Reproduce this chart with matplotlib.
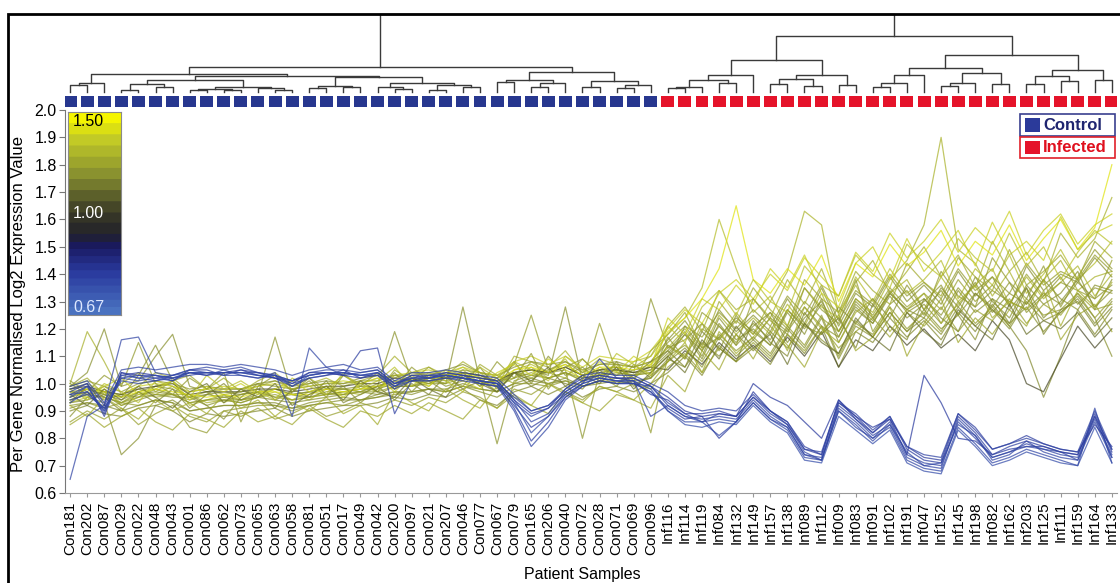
import numpy as np
import matplotlib
matplotlib.use('Agg')
import matplotlib.pyplot as plt
from matplotlib.colors import LinearSegmentedColormap, TwoSlopeNorm
from matplotlib.patches import Rectangle

plt.rcParams['font.family'] = ['Liberation Sans', 'DejaVu Sans']

# sample order (as in the dendrogram)
samples = ['Con181', 'Con202', 'Con087', 'Con029', 'Con022', 'Con048', 'Con043', 'Con001',
           'Con086', 'Con062', 'Con073', 'Con065', 'Con063', 'Con058', 'Con081', 'Con051',
           'Con017', 'Con049', 'Con042', 'Con200', 'Con097', 'Con021', 'Con207', 'Con046',
           'Con077', 'Con067', 'Con079', 'Con165', 'Con206', 'Con040', 'Con072', 'Con028',
           'Con071', 'Con069', 'Con096',
           'Inf116', 'Inf114', 'Inf119', 'Inf084', 'Inf132', 'Inf149', 'Inf157', 'Inf138',
           'Inf089', 'Inf112', 'Inf009', 'Inf083', 'Inf091', 'Inf102', 'Inf191', 'Inf047',
           'Inf152', 'Inf145', 'Inf198', 'Inf082', 'Inf162', 'Inf203', 'Inf125', 'Inf111',
           'Inf159', 'Inf164', 'Inf133']
n_control = 35

# per gene expression, values x100
up01 = [100, 119, 108, 96, 99, 104, 102, 97, 98, 96, 97, 99, 101, 98, 100, 102, 99, 101, 103, 110,
        104, 106, 103, 108, 104, 99, 110, 108, 106, 112, 104, 109, 107, 106, 110,
        121, 128, 119, 134, 127, 131, 124, 138, 129, 142, 126, 137, 145, 133, 141,
        150, 139, 147, 135, 152, 141, 148, 137, 155, 146, 153, 168]
up02 = [93, 95, 98, 92, 95, 99, 101, 92, 94, 96, 94, 95, 98, 96, 94, 98, 96, 99, 97, 103,
        101, 99, 104, 106, 102, 97, 105, 107, 104, 109, 100, 106, 103, 108, 110,
        118, 124, 135, 160, 142, 126, 132, 121, 135, 128, 124, 139, 130, 142, 133,
        138, 145, 131, 142, 136, 147, 133, 140, 149, 138, 144, 152]
up03 = [97, 98, 96, 95, 98, 96, 99, 95, 97, 93, 96, 98, 95, 94, 97, 99, 98, 97, 100, 98,
        102, 100, 103, 104, 99, 102, 104, 102, 105, 107, 103, 105, 106, 102, 107,
        113, 120, 112, 125, 118, 124, 118, 129, 121, 133, 119, 131, 126, 138, 145,
        158, 190, 149, 144, 132, 141, 129, 138, 145, 134, 139, 141]
up04 = [94, 96, 97, 93, 97, 95, 96, 96, 93, 94, 93, 95, 97, 94, 95, 96, 97, 96, 99, 101,
        99, 102, 100, 105, 100, 101, 102, 106, 102, 104, 101, 103, 105, 103, 104,
        114, 109, 122, 116, 126, 118, 130, 141, 163, 158, 125, 136, 124, 133, 138,
        127, 139, 130, 136, 142, 129, 139, 131, 137, 143, 132, 140]
up05 = [90, 92, 89, 88, 91, 92, 90, 86, 89, 88, 89, 90, 91, 88, 90, 91, 92, 92, 93, 95,
        94, 96, 95, 98, 94, 92, 97, 99, 96, 99, 95, 98, 99, 97, 100,
        104, 110, 103, 114, 108, 113, 107, 118, 111, 121, 106, 119, 115, 124, 117,
        123, 116, 126, 119, 129, 121, 112, 95, 110, 127, 118, 127]
up06 = [88, 95, 93, 74, 80, 92, 94, 90, 91, 92, 92, 93, 92, 91, 93, 94, 95, 94, 96, 97,
        96, 98, 97, 99, 97, 95, 99, 101, 100, 101, 99, 100, 101, 100, 102,
        108, 113, 106, 117, 110, 116, 110, 120, 113, 124, 109, 121, 117, 126, 119,
        127, 120, 125, 116, 131, 122, 128, 119, 126, 132, 124, 110]
up07 = [99, 104, 120, 99, 101, 110, 118, 99, 97, 98, 98, 100, 101, 99, 100, 101, 100, 102, 103, 102,
        104, 103, 105, 107, 104, 103, 106, 108, 107, 108, 105, 107, 108, 106, 108,
        116, 123, 114, 127, 119, 125, 119, 131, 122, 135, 121, 133, 128, 139, 130,
        136, 129, 141, 132, 139, 128, 143, 134, 140, 137, 146, 139]
up08 = [95, 97, 94, 96, 95, 98, 96, 93, 94, 95, 94, 96, 117, 96, 95, 97, 98, 97, 99, 119,
        101, 100, 102, 103, 102, 78, 101, 103, 102, 104, 102, 103, 104, 103, 104,
        110, 118, 112, 121, 115, 122, 116, 127, 120, 129, 117, 130, 124, 133, 127,
        131, 125, 135, 128, 134, 130, 127, 133, 129, 137, 131, 136]
up09 = [93, 94, 96, 92, 94, 96, 95, 95, 92, 94, 93, 95, 94, 93, 94, 95, 96, 97, 96, 99,
        99, 101, 100, 128, 101, 99, 104, 105, 103, 128, 101, 104, 103, 105, 106,
        112, 119, 110, 124, 116, 120, 114, 126, 118, 131, 115, 127, 122, 132, 124,
        129, 122, 134, 126, 131, 127, 135, 124, 130, 138, 128, 134]
up10 = [97, 96, 95, 93, 96, 97, 96, 94, 96, 95, 96, 97, 95, 96, 97, 96, 97, 98, 98, 100,
        101, 102, 101, 103, 102, 101, 104, 103, 104, 105, 80, 104, 105, 104, 131,
        113, 116, 122, 112, 125, 116, 124, 119, 128, 121, 117, 129, 123, 134, 126,
        130, 136, 125, 133, 128, 137, 126, 132, 139, 129, 135, 133]
up11 = [92, 93, 91, 93, 92, 94, 93, 84, 82, 90, 91, 92, 92, 90, 92, 93, 92, 94, 95, 96,
        97, 98, 97, 99, 98, 97, 100, 100, 99, 101, 99, 101, 100, 101, 82,
        110, 114, 108, 118, 112, 117, 111, 121, 114, 125, 110, 122, 118, 128, 120,
        126, 119, 130, 122, 128, 121, 131, 125, 127, 133, 124, 131]
up12 = [98, 100, 97, 96, 99, 100, 99, 97, 98, 99, 98, 99, 100, 98, 99, 100, 101, 100, 102, 103,
        104, 105, 103, 106, 104, 103, 108, 110, 107, 110, 106, 110, 109, 108, 112,
        120, 127, 122, 133, 138, 131, 140, 134, 146, 139, 132, 148, 141, 155, 146,
        152, 160, 148, 157, 151, 163, 147, 156, 162, 151, 158, 162]
up13 = [95, 98, 96, 94, 97, 99, 98, 95, 96, 97, 96, 97, 98, 96, 97, 98, 98, 99, 99, 101,
        101, 102, 102, 104, 103, 100, 104, 105, 104, 106, 103, 105, 106, 104, 105,
        111, 118, 109, 122, 114, 121, 126, 115, 124, 130, 119, 128, 122, 133, 127,
        124, 135, 128, 137, 126, 133, 129, 138, 131, 127, 136, 134]
up14 = [98, 99, 97, 96, 98, 99, 100, 96, 97, 97, 97, 98, 98, 97, 98, 99, 99, 100, 100, 102,
        101, 103, 102, 104, 103, 101, 104, 105, 104, 106, 103, 105, 105, 104, 106,
        105, 112, 107, 115, 109, 114, 108, 117, 110, 119, 106, 116, 112, 121, 114,
        120, 113, 118, 112, 123, 116, 100, 97, 109, 121, 113, 120]
up15 = [96, 98, 97, 95, 97, 98, 97, 96, 95, 96, 95, 97, 97, 96, 96, 98, 97, 98, 99, 100,
        101, 101, 102, 104, 102, 101, 105, 106, 104, 107, 103, 106, 106, 105, 107,
        119, 124, 131, 142, 165, 138, 133, 142, 136, 147, 130, 144, 139, 151, 143,
        148, 156, 143, 152, 147, 158, 145, 153, 160, 149, 157, 180]
up16 = [91, 93, 92, 90, 92, 94, 93, 90, 91, 92, 92, 93, 93, 91, 92, 93, 94, 94, 95, 97,
        97, 98, 98, 100, 98, 97, 100, 102, 100, 102, 99, 101, 102, 101, 102,
        109, 106, 115, 110, 118, 112, 119, 113, 122, 116, 111, 123, 117, 126, 119,
        124, 118, 128, 121, 127, 120, 130, 123, 126, 131, 122, 130]
up17 = [99, 101, 99, 97, 100, 101, 100, 98, 99, 98, 98, 100, 99, 98, 99, 100, 100, 101, 101, 103,
        103, 104, 103, 105, 104, 102, 107, 125, 105, 108, 104, 107, 107, 106, 108,
        115, 121, 117, 126, 120, 127, 121, 132, 125, 136, 123, 134, 129, 140, 132,
        137, 131, 142, 134, 139, 133, 144, 136, 141, 138, 147, 141]
up18 = [94, 96, 95, 93, 95, 96, 96, 93, 94, 94, 94, 95, 96, 94, 95, 96, 96, 97, 97, 99,
        99, 100, 100, 102, 100, 99, 102, 104, 102, 104, 101, 122, 104, 103, 105,
        114, 110, 120, 116, 123, 118, 126, 120, 130, 124, 119, 131, 125, 135, 128,
        133, 127, 138, 130, 136, 129, 140, 132, 137, 134, 131, 145]
up19 = [100, 96, 99, 95, 103, 114, 101, 96, 92, 87, 95, 100, 94, 97, 102, 96, 99, 93, 98, 104,
        97, 103, 99, 101, 106, 98, 108, 100, 110, 103, 106, 101, 108, 99, 103,
        108, 121, 113, 117, 124, 119, 114, 127, 121, 118, 128, 122, 131, 124, 136,
        127, 134, 125, 139, 130, 124, 136, 129, 133, 141, 127, 138]
up20 = [86, 90, 87, 91, 85, 89, 92, 88, 86, 90, 88, 91, 87, 89, 92, 88, 90, 93, 91, 94,
        92, 95, 93, 97, 95, 91, 98, 96, 100, 97, 94, 99, 97, 100, 98,
        106, 111, 104, 113, 108, 115, 109, 118, 112, 121, 113, 119, 124, 117, 126,
        121, 128, 119, 127, 123, 131, 122, 129, 125, 133, 127, 129]
up21 = [101, 97, 103, 99, 115, 100, 96, 102, 98, 104, 86, 99, 103, 97, 101, 95, 103, 99, 104, 98,
        106, 101, 97, 104, 99, 108, 102, 111, 98, 106, 109, 103, 99, 107, 102,
        117, 109, 126, 121, 114, 131, 123, 118, 135, 127, 122, 138, 119, 129, 134,
        125, 141, 132, 128, 146, 137, 131, 143, 128, 139, 149, 142]
up22 = [85, 89, 84, 88, 91, 86, 83, 89, 87, 84, 90, 86, 88, 85, 91, 87, 84, 90, 88, 92,
        89, 93, 90, 87, 94, 91, 96, 92, 89, 97, 93, 90, 96, 94, 91,
        103, 97, 112, 105, 118, 109, 121, 114, 106, 119, 125, 112, 117, 128, 110,
        122, 131, 115, 124, 118, 127, 121, 134, 116, 125, 129, 119]
up23 = [97, 95, 99, 102, 96, 98, 101, 94, 99, 97, 100, 96, 98, 101, 97, 99, 95, 100, 102, 97,
        103, 99, 105, 101, 98, 104, 107, 103, 109, 105, 102, 108, 104, 110, 106,
        124, 118, 131, 127, 136, 129, 142, 135, 147, 133, 128, 144, 150, 138, 153,
        141, 148, 156, 143, 159, 147, 152, 145, 161, 149, 155, 158]
up24 = [93, 99, 95, 90, 97, 93, 98, 91, 96, 100, 94, 97, 91, 98, 95, 101, 93, 96, 99, 94,
        100, 96, 103, 98, 101, 97, 104, 99, 102, 100, 98, 105, 100, 103, 108,
        112, 106, 119, 113, 108, 123, 115, 110, 126, 118, 124, 113, 129, 121, 116,
        131, 124, 119, 133, 127, 122, 135, 118, 127, 130, 121, 128]
up25 = [99, 102, 96, 100, 104, 97, 101, 103, 98, 102, 97, 101, 104, 99, 102, 98, 103, 100, 97, 105,
        101, 106, 102, 99, 107, 103, 100, 108, 104, 102, 109, 103, 107, 101, 112,
        118, 126, 113, 130, 122, 135, 127, 121, 138, 131, 126, 141, 134, 129, 144,
        137, 132, 146, 139, 134, 149, 136, 141, 147, 138, 152, 146]
up26 = [92, 88, 95, 91, 87, 94, 90, 93, 89, 96, 91, 94, 88, 93, 90, 95, 89, 92, 85, 97,
        93, 90, 98, 94, 91, 99, 95, 92, 100, 96, 93, 99, 97, 94, 100,
        108, 115, 104, 119, 111, 117, 124, 112, 128, 120, 115, 126, 131, 119, 127,
        133, 122, 129, 136, 124, 130, 127, 138, 121, 134, 128, 137]
up27 = [96, 92, 98, 94, 99, 95, 91, 97, 100, 93, 98, 95, 100, 92, 96, 99, 94, 101, 97, 95,
        102, 98, 95, 103, 100, 97, 104, 101, 106, 99, 103, 100, 106, 98, 104,
        110, 104, 116, 109, 121, 113, 118, 107, 122, 115, 111, 124, 117, 112, 126,
        119, 114, 127, 121, 116, 129, 118, 123, 120, 126, 117, 124]
up28 = [98, 94, 100, 97, 93, 101, 99, 95, 103, 98, 101, 97, 94, 102, 99, 96, 104, 98, 101, 106,
        99, 104, 101, 97, 106, 102, 108, 105, 101, 110, 105, 102, 111, 107, 103,
        121, 115, 128, 134, 125, 138, 130, 126, 143, 136, 132, 147, 140, 135, 151,
        144, 139, 153, 146, 141, 155, 143, 150, 138, 148, 156, 151]

down01 = [65, 88, 92, 116, 117, 104, 103, 105, 106, 105, 106, 104, 103, 101, 104, 105, 105, 104, 105, 100,
          103, 103, 104, 103, 102, 101, 94, 86, 89, 97, 101, 103, 102, 102, 99,
          93, 89, 86, 89, 88, 95, 89, 85, 75, 72, 92, 87, 81, 85, 73,
          70, 69, 87, 81, 72, 74, 79, 75, 73, 72, 88, 73]
down02 = [97, 100, 88, 104, 103, 103, 101, 105, 105, 103, 105, 104, 102, 99, 102, 103, 105, 102, 103, 98,
          101, 101, 102, 101, 100, 99, 92, 84, 88, 95, 99, 101, 100, 100, 97,
          91, 87, 88, 80, 86, 97, 90, 85, 76, 74, 93, 88, 82, 87, 74,
          103, 93, 80, 79, 74, 76, 77, 77, 75, 74, 89, 75]
down03 = [94, 96, 91, 101, 100, 101, 103, 104, 103, 105, 103, 102, 104, 88, 113, 106, 103, 104, 105, 100,
          102, 103, 103, 102, 101, 100, 95, 90, 92, 97, 101, 102, 101, 100, 97,
          90, 86, 86, 87, 86, 93, 87, 83, 73, 72, 90, 85, 79, 85, 75,
          70, 71, 85, 81, 73, 75, 77, 76, 75, 72, 86, 73]
down04 = [96, 99, 89, 104, 102, 101, 102, 103, 104, 104, 104, 103, 102, 101, 103, 104, 103, 112, 113, 89,
          101, 102, 103, 102, 101, 100, 91, 79, 86, 95, 100, 109, 102, 101, 96,
          94, 89, 89, 90, 88, 95, 90, 86, 77, 74, 94, 87, 82, 88, 76,
          72, 71, 88, 82, 74, 77, 79, 77, 75, 74, 88, 76]
down05 = [93, 97, 90, 102, 101, 102, 101, 104, 104, 103, 103, 102, 103, 100, 102, 103, 104, 103, 103, 99,
          101, 101, 102, 102, 100, 99, 90, 77, 84, 94, 99, 101, 100, 100, 99,
          92, 88, 86, 81, 86, 93, 87, 84, 74, 72, 90, 84, 80, 84, 72,
          69, 68, 84, 78, 71, 73, 76, 74, 72, 70, 91, 71]
down06 = [96, 97, 91, 102, 103, 102, 103, 105, 104, 104, 104, 104, 103, 101, 103, 104, 104, 103, 104, 100,
          102, 102, 103, 102, 101, 100, 93, 88, 91, 96, 100, 102, 101, 101, 88,
          92, 88, 87, 88, 87, 94, 88, 84, 74, 73, 91, 86, 80, 86, 74,
          71, 70, 86, 80, 73, 75, 78, 76, 74, 73, 87, 74]
down07 = [98, 100, 92, 103, 104, 103, 102, 104, 103, 104, 105, 103, 102, 100, 104, 104, 103, 102, 104, 99,
          103, 102, 104, 103, 102, 101, 94, 89, 91, 98, 102, 103, 102, 102, 99,
          95, 90, 88, 89, 88, 100, 95, 92, 86, 80, 94, 88, 84, 87, 77,
          73, 72, 89, 84, 76, 78, 81, 78, 76, 75, 85, 77]
down08 = [95, 99, 90, 103, 102, 103, 102, 104, 104, 104, 104, 103, 103, 99, 103, 104, 104, 103, 104, 99,
          102, 102, 103, 102, 101, 100, 93, 82, 88, 96, 100, 102, 101, 101, 98,
          90, 85, 84, 86, 85, 92, 86, 82, 72, 71, 88, 83, 78, 83, 71,
          68, 67, 83, 77, 70, 72, 75, 73, 71, 70, 84, 71]
down09 = [99, 101, 93, 105, 106, 105, 106, 107, 107, 106, 107, 106, 105, 103, 105, 106, 107, 105, 106, 101,
          104, 104, 105, 104, 103, 102, 96, 90, 92, 98, 103, 104, 103, 103, 100,
          97, 92, 90, 91, 90, 96, 90, 86, 76, 75, 93, 89, 83, 88, 77,
          74, 73, 89, 83, 76, 78, 80, 78, 76, 75, 90, 76]

up_genes = [up01, up02, up03, up04, up05, up06, up07, up08, up09, up10, up11, up12, up13, up14,
            up15, up16, up17, up18, up19, up20, up21, up22, up23, up24, up25, up26, up27, up28]
down_genes = [down01, down02, down03, down04, down05, down06, down07, down08, down09]

# dendrogram: (merge height, left, right), leaves are sample indices
con_left = (0.23, (0.12, (0.09, 0, 1), 2),
            (0.21, (0.15, (0.10, (0.03, 3, 4), (0.07, 5, 6)),
                    (0.07, (0.04, (0.02, 7, 8), (0.03, 9, 10)), (0.05, 11, (0.02, 12, 13)))),
             (0.19, (0.08, (0.05, 14, 15), (0.06, 16, 17)),
              (0.12, (0.07, 18, (0.04, 19, 20)), (0.09, (0.03, 21, 22), (0.06, 23, 24))))))
con_right = (0.26, (0.15, (0.13, 25, 26), (0.11, (0.06, 27, 28), 29)),
             (0.14, (0.07, 30, 31), (0.09, (0.05, 32, 33), 34)))
inf_left = (0.41, (0.22, (0.15, (0.07, (0.05, 35, 36), 37), (0.12, 38, 39)), 40),
            (0.22, (0.17, (0.10, 41, 42), (0.08, 43, 44)), (0.09, 45, 46)))
inf_right = (0.47, (0.31, (0.22, (0.12, (0.06, 47, 48), 49), 50),
                    (0.24, (0.12, (0.08, 51, 52), 53), (0.10, 54, 55))),
             (0.28, (0.20, (0.10, 56, 57), (0.14, 58, 59)), (0.16, 60, 61)))
tree = (1.0, (0.32, con_left, con_right), (0.72, inf_left, inf_right))

W, H = 1120, 583
fig = plt.figure(figsize=(W / 100, H / 100), dpi=100)


def px_axes(x0, y0, x1, y1):
    return fig.add_axes([x0 / W, 1 - y1 / H, (x1 - x0) / W, (y1 - y0) / H])


x = np.arange(len(samples))
xlo, xhi = -0.3, len(samples) - 0.7

# colour scale
cmap = LinearSegmentedColormap.from_list('fc', [
    (0.0, '#4a72c0'), (0.25, '#2a3a9e'), (0.42, '#1a1a62'), (0.5, '#22222a'),
    (0.6, '#3c3c26'), (0.75, '#868e30'), (0.9, '#c0c828'), (1.0, '#f5f500')])
norm = TwoSlopeNorm(vmin=0.67, vcenter=1.0, vmax=1.5)

ax = px_axes(65, 110, 1117, 493)
for genes in (up_genes, down_genes):
    for g in genes:
        vals = np.array(g) / 100
        ratio = vals[n_control:].mean() / vals[:n_control].mean()
        ax.plot(x, vals, color=cmap(norm(ratio)), lw=0.9, alpha=0.72)

ax.set_xlim(xlo, xhi)
ax.set_ylim(0.6, 2.0)
ax.set_yticks(np.arange(0.6, 2.01, 0.1))
ax.set_yticklabels([f'{v:.1f}' for v in np.arange(0.6, 2.01, 0.1)], fontsize=11.5)
ax.set_xticks(x)
ax.set_xticklabels(samples, rotation=90, fontsize=11)
ax.tick_params(axis='x', length=3, color='#999999', pad=3)
ax.tick_params(axis='y', length=4, color='#777777', pad=2)
for s in ['top', 'right']:
    ax.spines[s].set_visible(False)
ax.spines['left'].set_color('#777777')
ax.spines['bottom'].set_color('#999999')
fig.text(19 / W, 1 - 304 / H, 'Per Gene Normalised Log2 Expression Value', fontsize=12,
         rotation=90, ha='center', va='center')
fig.text(582 / W, 1 - 575 / H, 'Patient Samples', fontsize=11.5, ha='center', va='center')

# group strip
axs = px_axes(65, 96, 1117, 107)
axs.bar(x, 1, width=0.76, color=['#27378f' if i < n_control else '#e5132a' for i in x])
axs.set_xlim(xlo, xhi)
axs.set_ylim(0, 1)
axs.axis('off')

# dendrogram
axd = px_axes(65, 14, 1117, 92)


def draw_node(node):
    if isinstance(node, int):
        return float(node), 0.0
    h, a, b = node
    xa, ha = draw_node(a)
    xb, hb = draw_node(b)
    axd.plot([xa, xa, xb, xb], [ha, h, h, hb], color='#3a3a3a', lw=1.0, clip_on=False)
    return (xa + xb) / 2, h


draw_node(tree)
axd.set_xlim(xlo, xhi)
axd.set_ylim(0, 1)
axd.axis('off')

# colour bar
axc = px_axes(68, 112, 121, 315)
axc.imshow(np.linspace(1.5, 0.67, 200).reshape(-1, 1), aspect='auto', cmap=cmap.resampled(22),
           norm=norm, extent=[0, 1, 0, 1])
axc.set_xticks([])
axc.set_yticks([])
for s in axc.spines.values():
    s.set_color('#8a8a8a')
fig.text(73 / W, 1 - 121 / H, '1.50', fontsize=11.5, color='black', va='center')
fig.text(73 / W, 1 - 214 / H, '1.00', fontsize=11.5, color='white', va='center')
fig.text(73 / W, 1 - 307 / H, '0.67', fontsize=11.5, color='#dde8ff', va='center')

# legend
for (y0, y1), edge, fill, label, tcol in [((114, 136), '#3a3f8f', '#2b3a9a', 'Control', '#1f2570'),
                                          ((137, 158), '#e0202a', '#e5132a', 'Infected', '#e0101e')]:
    fig.add_artist(Rectangle((1020 / W, 1 - y1 / H), 95 / W, (y1 - y0) / H, fill=False,
                             edgecolor=edge, lw=1.2, transform=fig.transFigure))
    fig.add_artist(Rectangle((1025 / W, 1 - (y1 - 4) / H), 15 / W, (y1 - y0 - 8) / H,
                             facecolor=fill, edgecolor='none', transform=fig.transFigure))
    fig.text(1043 / W, 1 - (y0 + y1) / 2 / H, label, fontsize=12, fontweight='bold',
             color=tcol, va='center')

# outer frame
fig.add_artist(Rectangle((8 / W, -0.1), 1.2, 1.1 - 14 / H, fill=False, edgecolor='black',
                         lw=2, transform=fig.transFigure))

fig.savefig('out.png', dpi=100)
